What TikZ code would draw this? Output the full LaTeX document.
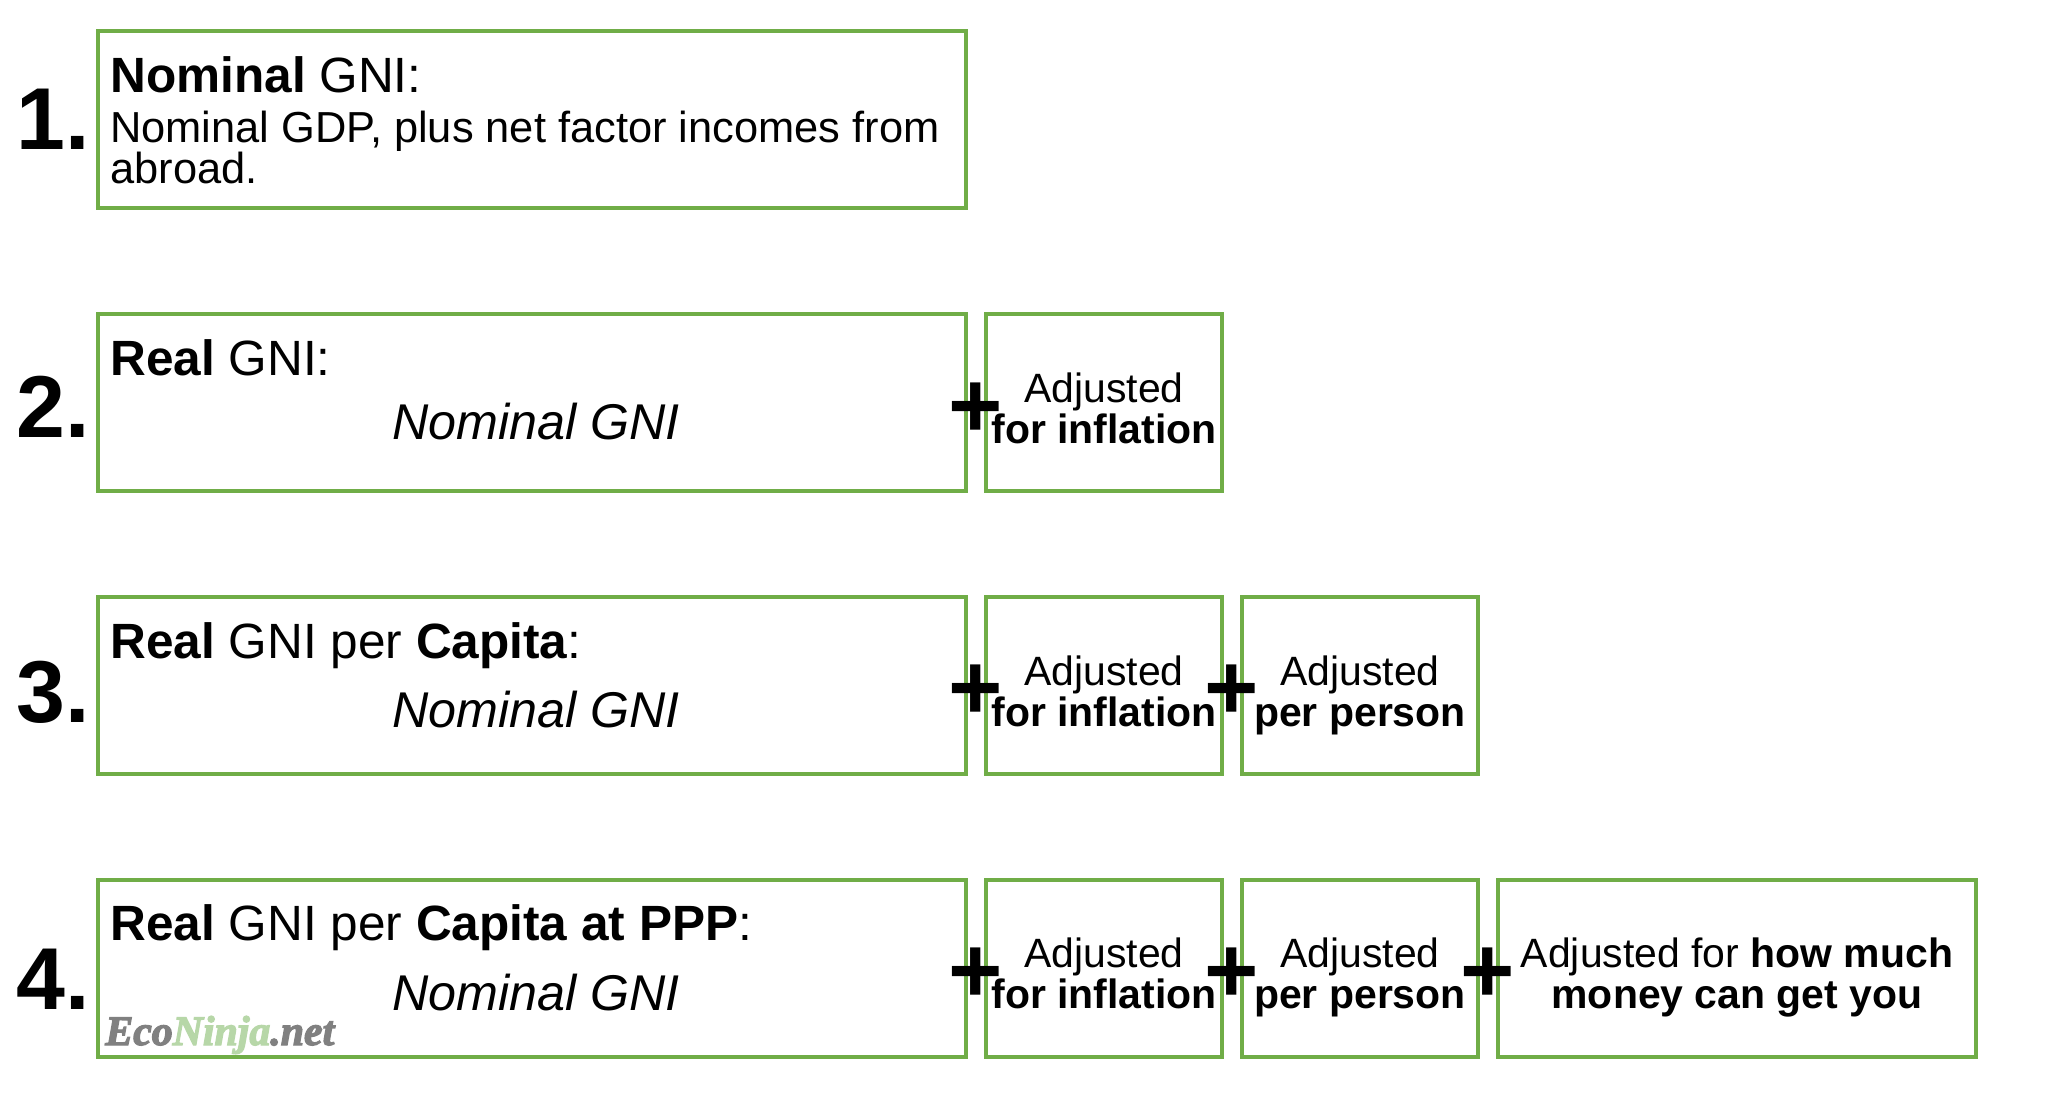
\documentclass[tikz,border=0pt]{standalone}
\usepackage{fontspec}
\usepackage{xcolor}
\setmainfont{Liberation Sans}
\newfontfamily\markfont[FakeBold=3]{Liberation Serif}
\definecolor{box-green}{HTML}{70AD47}
\definecolor{mark-grey}{HTML}{808080}
\definecolor{mark-green}{HTML}{B7D7A8}
\tikzset{
  gnibox/.style={draw=box-green, line width=0.09cm, fill=white, minimum height=3.54cm},
  widebox/.style={gnibox, minimum width=17.36cm},
  adjbox/.style={gnibox, minimum width=4.72cm},
  pppbox/.style={gnibox, minimum width=9.56cm},
  rownum/.style={anchor=base east, inner sep=0pt, font=\fontsize{50}{50}\selectfont\bfseries},
  title/.style={anchor=base west, inner sep=0pt, font=\fontsize{28.2}{30}\selectfont},
  formula/.style={anchor=base, inner sep=0pt, font=\fontsize{28.6}{30}\selectfont\itshape},
  adjtext/.style={anchor=base, inner sep=0pt, align=center, font=\fontsize{23.3}{23.3}\selectfont},
  plus/.style={inner sep=0pt, font=\fontsize{53}{53}\selectfont\bfseries}
}
\begin{document}
\begin{tikzpicture}
  \useasboundingbox (0,0) rectangle (40.96,-21.88);
  % Row 1
  \node[widebox] (B1) at (10.64,-2.39) {};
  \node[rownum] (N1) at (1.8,-2.98) {1.};
  \node[title] (T1) at (2.2,-1.85) {\textbf{Nominal} GNI:};
  \node[anchor=base west, inner sep=0pt, align=left, font=\fontsize{24.7}{23.3}\selectfont]
        (D1) at (2.2,-3.66) {Nominal GDP, plus net factor incomes from\\abroad.};
  % Row 2
  \node[widebox] (B2) at (10.64,-8.05) {};
  \node[adjbox] (A21) at (22.08,-8.05) {};
  \node[rownum] (N2) at (1.8,-8.75) {2.};
  \node[title] (T2) at (2.2,-7.5) {\textbf{Real} GNI:};
  \node[formula] (F2) at (10.72,-8.78) {Nominal GNI};
  \node[adjtext] (L21) at (22.08,-8.86) {Adjusted\\\textbf{for inflation}};
  \node[plus] (P21) at (19.51,-8.2) {+};
  % Row 3
  \node[widebox] (B3) at (10.64,-13.71) {};
  \node[adjbox] (A31) at (22.08,-13.71) {};
  \node[adjbox] (A32) at (27.2,-13.71) {};
  \node[rownum] (N3) at (1.8,-14.44) {3.};
  \node[title] (T3) at (2.2,-13.16) {\textbf{Real} GNI per \textbf{Capita}:};
  \node[formula] (F3) at (10.72,-14.55) {Nominal GNI};
  \node[adjtext] (L31) at (22.08,-14.52) {Adjusted\\\textbf{for inflation}};
  \node[adjtext] (L32) at (27.2,-14.52) {Adjusted\\\textbf{per person}};
  \node[plus] (P31) at (19.51,-13.85) {+};
  \node[plus] (P32) at (24.63,-13.85) {+};
  % Row 4
  \node[widebox] (B4) at (10.64,-19.37) {};
  \node[adjbox] (A41) at (22.08,-19.37) {};
  \node[adjbox] (A42) at (27.2,-19.37) {};
  \node[pppbox] (A43) at (34.74,-19.37) {};
  \node[rownum] (N4) at (1.8,-20.18) {4.};
  \node[title] (T4) at (2.2,-18.8) {\textbf{Real} GNI per \textbf{Capita at PPP}:};
  \node[formula] (F4) at (10.72,-20.2) {Nominal GNI};
  \node[adjtext] (L41) at (22.08,-20.16) {Adjusted\\\textbf{for inflation}};
  \node[adjtext] (L42) at (27.2,-20.16) {Adjusted\\\textbf{per person}};
  \node[adjtext] (L43) at (34.74,-20.16) {Adjusted for \textbf{how much}\\\textbf{money can get you}};
  \node[plus] (P41) at (19.51,-19.5) {+};
  \node[plus] (P42) at (24.63,-19.5) {+};
  \node[plus] (P43) at (29.75,-19.5) {+};
  % Watermark
  \node[anchor=base west, inner sep=0pt, font=\fontsize{23.8}{23.8}\markfont\bfseries\itshape]
        (W) at (2.1,-20.9) {\textcolor{mark-grey}{Eco}\textcolor{mark-green}{Ninja}\textcolor{mark-grey}{.net}};
\end{tikzpicture}
\end{document}
